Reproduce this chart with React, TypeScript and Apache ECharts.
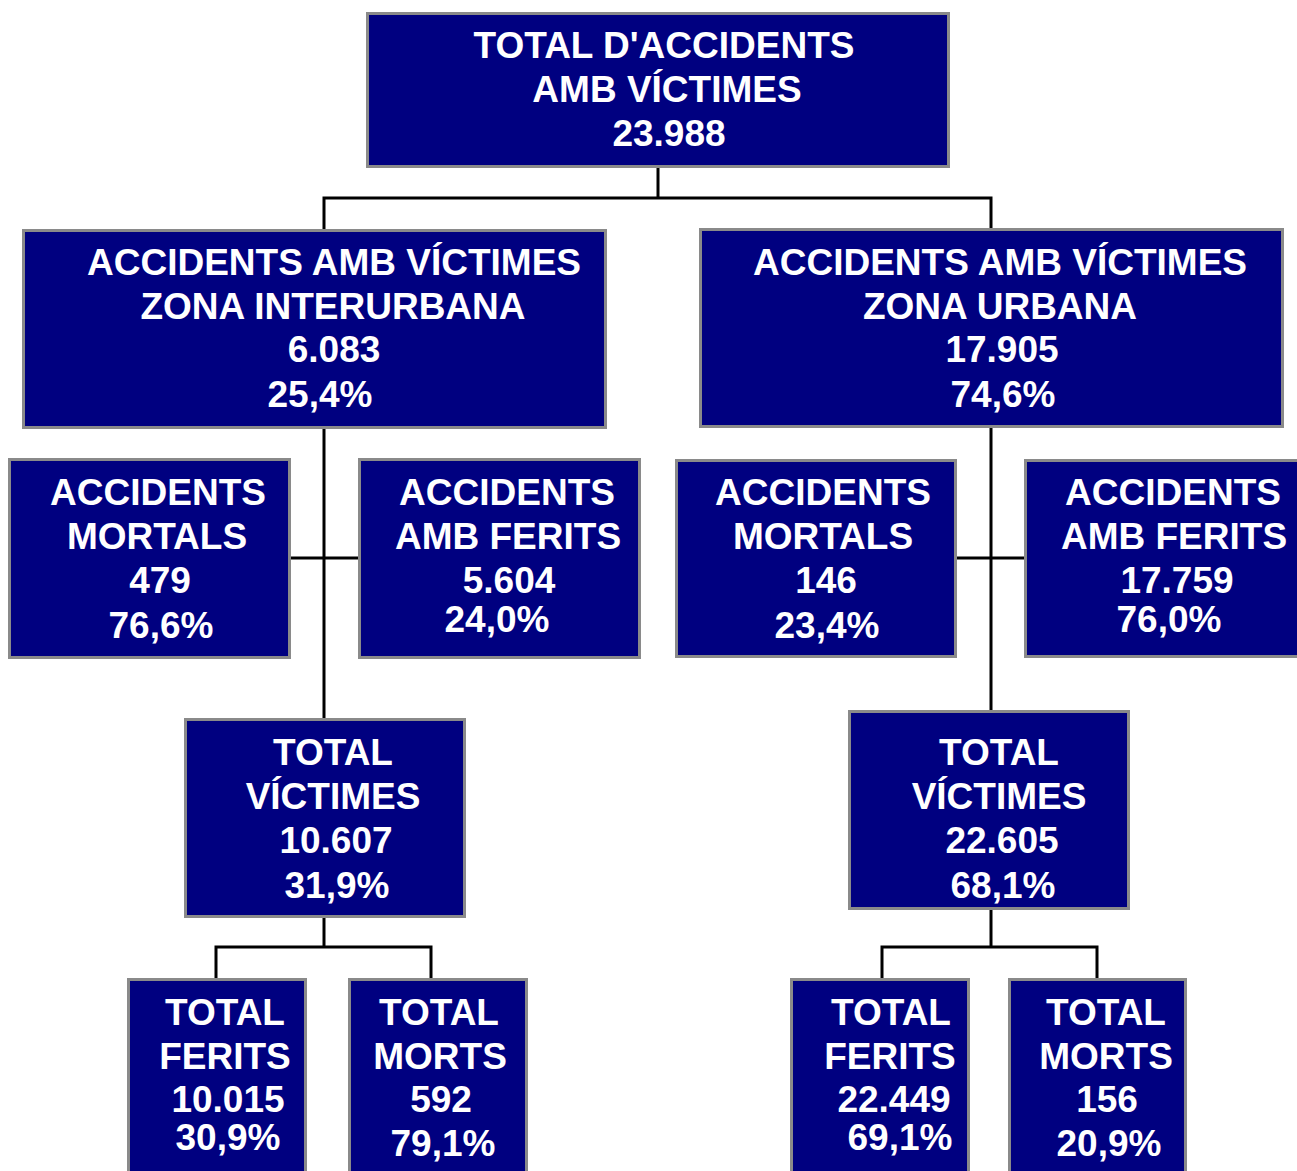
import React, { useEffect, useRef } from "react";
import * as echarts from "echarts";

// ---- data ----
const nodeTitles: string[][] = [
  ["TOTAL D'ACCIDENTS", "AMB VÍCTIMES"],
  ["ACCIDENTS AMB VÍCTIMES", "ZONA INTERURBANA"],
  ["ACCIDENTS AMB VÍCTIMES", "ZONA URBANA"],
  ["ACCIDENTS", "MORTALS"],
  ["ACCIDENTS", "AMB FERITS"],
  ["ACCIDENTS", "MORTALS"],
  ["ACCIDENTS", "AMB FERITS"],
  ["TOTAL", "VÍCTIMES"],
  ["TOTAL", "VÍCTIMES"],
  ["TOTAL", "FERITS"],
  ["TOTAL", "MORTS"],
  ["TOTAL", "FERITS"],
  ["TOTAL", "MORTS"],
];
const nodeValues: number[] = [23988, 6083, 17905, 479, 5604, 146, 17759, 10607, 22605, 10015, 592, 22449, 156];
const nodePercents: (number | null)[] = [null, 25.4, 74.6, 76.6, 24.0, 23.4, 76.0, 31.9, 68.1, 30.9, 79.1, 69.1, 20.9];

// ---- layout (positions only) ----
// box outer edges: [left, top, right, bottom]
const boxEdges: number[][] = [
  [366, 12, 950, 168],
  [22, 229, 607, 429],
  [699, 228, 1284, 428],
  [8, 458, 291, 659],
  [358, 458, 641, 659],
  [675, 459, 957, 658],
  [1024, 459, 1302, 658],
  [184, 718, 466, 918],
  [848, 710, 1130, 910],
  [127, 978, 307, 1178],
  [348, 978, 528, 1178],
  [790, 978, 970, 1178],
  [1008, 978, 1187, 1178],
];
// per-line text centres [x, y]
const lineCenters: number[][][] = [
  [[664, 45], [667, 89], [669, 133]],
  [[334, 262], [333, 306], [334, 349], [320, 394]],
  [[1000, 262], [1000, 306], [1002, 349], [1003, 394]],
  [[158, 492], [157, 536], [160, 580], [161, 625]],
  [[507, 492], [508, 536], [509, 580], [497, 619]],
  [[823, 492], [823, 536], [826, 580], [827, 625]],
  [[1173, 492], [1174, 536], [1177, 580], [1169, 619]],
  [[333, 752], [333, 796], [336, 840], [337, 885]],
  [[999, 752], [999, 796], [1002, 840], [1003, 885]],
  [[225, 1012], [225, 1056], [228, 1099], [228, 1137]],
  [[439, 1012], [440, 1056], [441, 1099], [443, 1143]],
  [[891, 1012], [890, 1056], [894, 1099], [900, 1137]],
  [[1106, 1012], [1106, 1056], [1107, 1099], [1109, 1143]],
];
const connectors: number[][][] = [
  [[658, 168], [658, 198]],
  [[324, 229], [324, 198], [991, 198], [991, 228]],
  [[324, 429], [324, 718]],
  [[291, 558], [358, 558]],
  [[991, 428], [991, 710]],
  [[957, 558], [1024, 558]],
  [[324, 918], [324, 947]],
  [[216, 978], [216, 947], [431, 947], [431, 978]],
  [[991, 910], [991, 947]],
  [[882, 978], [882, 947], [1097, 947], [1097, 978]],
];

function fmtInt(v: number): string {
  return String(v).replace(/\B(?=(\d{3})+(?!\d))/g, ".");
}
function fmtPct(v: number): string {
  return v.toFixed(1).replace(".", ",") + "%";
}

export default function App() {
  const ref = useRef<HTMLDivElement>(null);
  useEffect(() => {
    document.body.style.margin = "0";
    if (!ref.current) return;
    const chart = echarts.init(ref.current, null, { renderer: "svg" });
    const elements: any[] = [];
    connectors.forEach((pts) => {
      elements.push({
        type: "polyline",
        shape: { points: pts },
        style: { stroke: "#000000", lineWidth: 3, fill: null },
        z: 1,
      });
    });
    const lw = 3;
    nodeTitles.forEach((title, i) => {
      const [l, t, r, b] = boxEdges[i];
      elements.push({
        type: "rect",
        shape: { x: l + lw / 2, y: t + lw / 2, width: r - l - lw, height: b - t - lw },
        style: { fill: "#000080", stroke: "#8a8a8a", lineWidth: lw },
        z: 2,
      });
      const lines = [...title, fmtInt(nodeValues[i])];
      const p = nodePercents[i];
      if (p !== null) lines.push(fmtPct(p));
      lines.forEach((txt, j) => {
        const [cx, cy] = lineCenters[i][j];
        elements.push({
          type: "text",
          x: cx,
          y: cy,
          z: 3,
          style: {
            text: txt,
            fill: "#ffffff",
            align: "center",
            verticalAlign: "middle",
            fontSize: 37,
            fontWeight: "bold",
            fontFamily: "'Liberation Sans', Arial, sans-serif",
          },
        });
      });
    });
    chart.setOption({
      animation: false,
      backgroundColor: "#ffffff",
      graphic: { elements },
    });
    return () => chart.dispose();
  }, []);
  return <div ref={ref} style={{ width: 1297, height: 1171, position: "absolute", left: 0, top: 0 }} />;
}
